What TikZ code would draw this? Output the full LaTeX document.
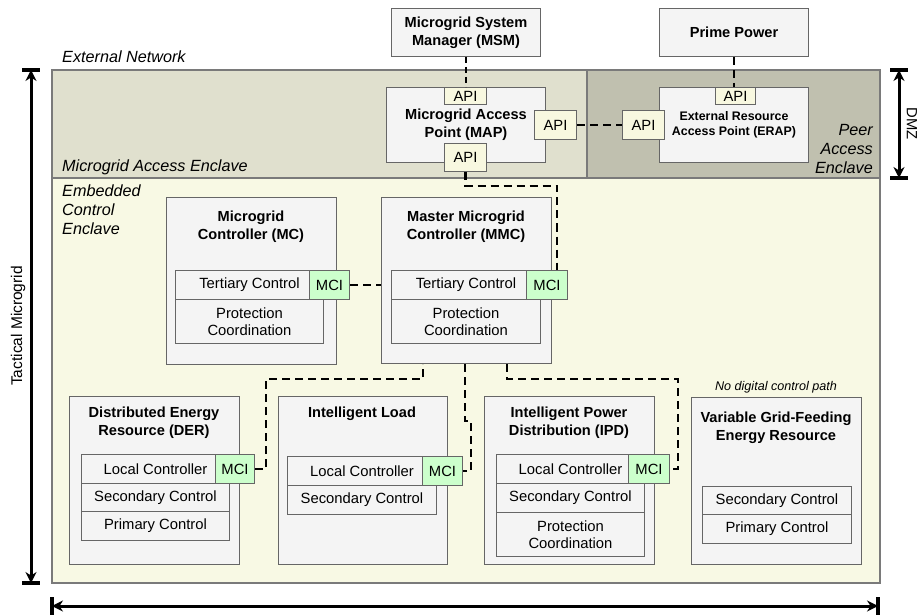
\documentclass[tikz,border=0pt]{standalone}
\usepackage{fontspec}
\setmainfont{Liberation Sans}
\usetikzlibrary{arrows.meta}

\definecolor{accessbg}{HTML}{E0E0CE}
\definecolor{peerbg}{HTML}{C0C0AF}
\definecolor{embedbg}{HTML}{F8F9E4}
\definecolor{boxfill}{HTML}{F4F4F4}
\definecolor{boxline}{HTML}{666666}
\definecolor{framecol}{HTML}{7A7A7A}
\definecolor{apifill}{HTML}{F8F8E0}
\definecolor{mcigreen}{HTML}{CCFFCC}

\newcommand\dgTitle{\fontsize{14.6}{17.8}\selectfont\bfseries}
\newcommand\dgSmallTitle{\fontsize{12.4}{15}\selectfont\bfseries}
\newcommand\dgBody{\fontsize{14.8}{17.4}\selectfont}
\newcommand\dgZone{\fontsize{16.2}{19}\selectfont\itshape}
\newcommand\dgNote{\fontsize{12.6}{15}\selectfont\itshape}
\newcommand\dgSide{\fontsize{15.5}{18}\selectfont}

\begin{document}
\begin{tikzpicture}[x=1pt,y=-1pt,
  box/.style={draw=boxline, fill=boxfill, line width=1pt, inner sep=0pt,
              anchor=north west, align=center, font=\dgTitle},
  cell/.style={draw=boxline, fill=boxfill, line width=1pt, inner sep=0pt,
               anchor=north west, align=center, font=\dgBody},
  mci/.style={cell, fill=mcigreen},
  api/.style={cell, fill=apifill},
  title/.style={anchor=north, inner sep=0pt, align=center, font=\dgTitle},
  zone/.style={inner sep=0pt, font=\dgZone},
  conn/.style={line width=2.4pt, dash pattern=on 8pt off 5pt},
  thinconn/.style={line width=1.4pt, dash pattern=on 6pt off 4pt},
  frame/.style={draw=framecol, line width=1.2pt},
  dim/.style={line width=3pt, {Stealth[length=11pt,width=11pt]}-{Stealth[length=11pt,width=11pt]}},
  dimbar/.style={line width=4pt}
]
\useasboundingbox (0,0) rectangle (919,615);

% enclaves
\fill[embedbg] (52,178) rectangle (880,583);
\fill[accessbg] (52,70) rectangle (587,178);
\fill[peerbg] (587,70) rectangle (880,178);
\draw[frame] (52,70) rectangle (880,583);
\draw[frame] (52,178) -- (880,178);
\draw[frame] (587,70) -- (587,178);

\node[zone, anchor=base west] (extnet) at (62,63) {External Network};
\node[zone, anchor=base west] (macc) at (62,172) {Microgrid Access Enclave};
\node[zone, anchor=north west, align=left] (ece) at (62,185) {Embedded\\Control\\Enclave};
\node[zone, anchor=south east, align=right] (pae) at (873,174) {Peer\\Access\\Enclave};

% external systems
\node[box, minimum width=149pt, minimum height=48pt] (msm) at (391,8) {Microgrid System\\Manager (MSM)};
\node[box, minimum width=149pt, minimum height=48pt] (pp) at (659,8) {Prime Power};

% access points
\node[box, minimum width=159pt, minimum height=75pt] (map) at (386,87) {Microgrid Access\\Point (MAP)};
\node[api, minimum width=42pt, minimum height=17pt] (mapT) at (444,87) {API};
\node[api, minimum width=42pt, minimum height=28pt] (mapB) at (444,143) {API};
\node[api, minimum width=42pt, minimum height=29pt] (mapR) at (534,110) {API};

\node[box, font=\dgSmallTitle, minimum width=149pt, minimum height=75pt] (erap) at (659,87) {External Resource\\Access Point (ERAP)};
\node[api, minimum width=40pt, minimum height=17pt] (erapT) at (715,87) {API};
\node[api, minimum width=42pt, minimum height=29pt] (erapL) at (622,110) {API};

% controllers
\node[box, minimum width=170pt, minimum height=167pt] (mc) at (166,197) {};
\node[title] (mct) at (251,211) {Microgrid\\Controller (MC)};
\node[cell, minimum width=148pt, minimum height=29pt] (mcTer) at (175,270) {Tertiary Control};
\node[cell, minimum width=148pt, minimum height=44pt] (mcPro) at (175,299) {Protection\\Coordination};
\node[mci, minimum width=40pt, minimum height=29pt] (mcMci) at (309,270) {MCI};

\node[box, minimum width=170pt, minimum height=166pt] (mmc) at (381,197) {};
\node[title] (mmct) at (466,211) {Master Microgrid\\Controller (MMC)};
\node[cell, minimum width=149pt, minimum height=29pt] (mmcTer) at (391,270) {Tertiary Control};
\node[cell, minimum width=149pt, minimum height=44pt] (mmcPro) at (391,299) {Protection\\Coordination};
\node[mci, minimum width=41pt, minimum height=29pt] (mmcMci) at (526,270) {MCI};

% field devices
\node[box, minimum width=170pt, minimum height=168pt] (der) at (69,396) {};
\node[title] (dert) at (154,407) {Distributed Energy\\Resource (DER)};
\node[cell, minimum width=148pt, minimum height=29pt] (derLc) at (81,454) {Local Controller};
\node[cell, minimum width=148pt, minimum height=28pt] (derSec) at (81,483) {Secondary Control};
\node[cell, minimum width=148pt, minimum height=29pt] (derPri) at (81,511) {Primary Control};
\node[mci, minimum width=39pt, minimum height=29pt] (derMci) at (215,454) {MCI};

\node[box, minimum width=169pt, minimum height=168pt] (il) at (278,396) {};
\node[title] (ilt) at (362,407) {Intelligent Load};
\node[cell, minimum width=149pt, minimum height=29pt] (ilLc) at (287,456) {Local Controller};
\node[cell, minimum width=149pt, minimum height=29pt] (ilSec) at (287,485) {Secondary Control};
\node[mci, minimum width=40pt, minimum height=29pt] (ilMci) at (422,456) {MCI};

\node[box, minimum width=170pt, minimum height=168pt] (ipd) at (484,396) {};
\node[title] (ipdt) at (569,407) {Intelligent Power\\Distribution (IPD)};
\node[cell, minimum width=148pt, minimum height=29pt] (ipdLc) at (496,454) {Local Controller};
\node[cell, minimum width=148pt, minimum height=29pt] (ipdSec) at (496,483) {Secondary Control};
\node[cell, minimum width=148pt, minimum height=44pt] (ipdPro) at (496,512) {Protection\\Coordination};
\node[mci, minimum width=41pt, minimum height=29pt] (ipdMci) at (628,454) {MCI};

\node[box, minimum width=170pt, minimum height=167pt] (vgf) at (691,397) {};
\node[title] (vgft) at (776,412) {Variable Grid-Feeding\\Energy Resource};
\node[cell, minimum width=149pt, minimum height=28pt] (vgfSec) at (702,486) {Secondary Control};
\node[cell, minimum width=149pt, minimum height=29pt] (vgfPri) at (702,514) {Primary Control};
\node[inner sep=0pt, font=\dgNote] (vgfnote) at (776,387) {No digital control path};

% control paths
\coordinate (k1) at (557,186);
\coordinate (j1) at (266,379);
\coordinate (j2) at (423,379);
\coordinate (m1) at (465,421);
\coordinate (m2) at (471,421);
\coordinate (n1) at (507,379);
\coordinate (n2) at (678,379);

\draw[thinconn] (msm.south) -- (msm.south |- mapT.north);
\draw[conn] (pp.south) -- (pp.south |- erapT.north);
\draw[conn] (mapR.east) -- (erapL.west);
\draw[conn] (mapB.south) |- (k1) -- (k1 |- mmcMci.north);
\draw[conn] (mcMci.east) -- (mcMci.east -| mmc.west);
\draw[conn] (derMci.east) -| (j1) -- (j2) -- (j2 |- mmc.south);
\draw[conn] (m1 |- mmc.south) -- (m1) -- (m2) |- (ilMci.east);
\draw[conn] (n1 |- mmc.south) |- (n2) |- (ipdMci.east);

% extents
\coordinate (tmA) at (31,70);
\coordinate (tmB) at (31,583);
\draw[dim] (tmA) -- (tmB);
\draw[dimbar] ([xshift=-9pt]tmA) -- ([xshift=9pt]tmA);
\draw[dimbar] ([xshift=-9pt]tmB) -- ([xshift=9pt]tmB);
\node[rotate=90, inner sep=0pt, font=\dgSide] (tmlabel) at (18,326) {Tactical Microgrid};

\coordinate (dzA) at (899,70);
\coordinate (dzB) at (899,178);
\draw[dim] (dzA) -- (dzB);
\draw[dimbar] ([xshift=-9pt]dzA) -- ([xshift=9pt]dzA);
\draw[dimbar] ([xshift=-9pt]dzB) -- ([xshift=9pt]dzB);
\node[rotate=-90, inner sep=0pt, font=\dgBody] (dzlabel) at (912,124) {DMZ};

\coordinate (wA) at (52,606);
\coordinate (wB) at (878,606);
\draw[dim] (wA) -- (wB);
\draw[dimbar] ([yshift=-9pt]wA) -- ([yshift=9pt]wA);
\draw[dimbar] ([yshift=-9pt]wB) -- ([yshift=9pt]wB);
\end{tikzpicture}
\end{document}
